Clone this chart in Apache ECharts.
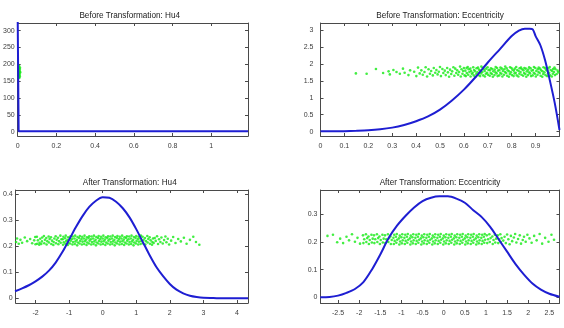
<!DOCTYPE html>
<html>
<head>
<meta charset="utf-8">
<script src="https://cdn.jsdelivr.net/npm/echarts@6/dist/echarts.min.js"></script>
<style>
  html, body { margin: 0; padding: 0; background: #fff; }
  #chart { width: 564px; height: 328px; }
</style>
</head>
<body>
<div id="chart"></div>
<script>
// tick labels
var hu4BeforeXTicks = [0, 0.2, 0.4, 0.6, 0.8, 1];
var hu4BeforeYTicks = [0, 50, 100, 150, 200, 250, 300];
var eccBeforeXTicks = [0, 0.1, 0.2, 0.3, 0.4, 0.5, 0.6, 0.7, 0.8, 0.9];
var eccBeforeYTicks = [0, 0.5, 1, 1.5, 2, 2.5, 3];
var hu4AfterXTicks = [-2, -1, 0, 1, 2, 3, 4];
var hu4AfterYTicks = [0, 0.1, 0.2, 0.3, 0.4];
var eccAfterXTicks = [-2.5, -2, -1.5, -1, -0.5, 0, 0.5, 1, 1.5, 2, 2.5];
var eccAfterYTicks = [0, 0.1, 0.2, 0.3];

// density curves (blue)
var hu4BeforeCurveX = [0, 0.005, 0.01, 0.05, 0.2, 0.5, 0.8, 1.0, 1.19];
var hu4BeforeCurveY = [345, 1, 1, 1, 1, 1, 1, 1, 1];
var eccBeforeCurveX = [0, 0.05, 0.1, 0.15, 0.2, 0.25, 0.3, 0.35, 0.4, 0.45, 0.5, 0.55, 0.6, 0.65, 0.7, 0.75, 0.8, 0.83, 0.855, 0.875, 0.888, 0.9, 0.92, 0.94, 0.96, 0.98, 1.0];
var eccBeforeCurveY = [0.01, 0.01, 0.015, 0.025, 0.04, 0.07, 0.12, 0.2, 0.31, 0.45, 0.65, 0.92, 1.24, 1.62, 2.04, 2.43, 2.82, 2.98, 3.04, 3.04, 3.02, 2.82, 2.55, 2.1, 1.5, 0.85, 0.05];
var hu4AfterCurveX = [-2.61, -2.4, -2.2, -2.0, -1.8, -1.6, -1.4, -1.2, -1.0, -0.8, -0.6, -0.4, -0.2, 0, 0.2, 0.4, 0.6, 0.8, 1.0, 1.2, 1.4, 1.6, 1.8, 2.0, 2.2, 2.4, 2.6, 2.8, 3.0, 3.3, 3.6, 4.0, 4.33];
var hu4AfterCurveY = [0.027, 0.038, 0.05, 0.065, 0.083, 0.106, 0.137, 0.177, 0.224, 0.272, 0.315, 0.35, 0.374, 0.387, 0.385, 0.37, 0.345, 0.31, 0.265, 0.215, 0.165, 0.12, 0.085, 0.055, 0.033, 0.019, 0.01, 0.005, 0.002, 0.001, 0, 0, 0];
var eccAfterCurveX = [-2.92, -2.7, -2.5, -2.3, -2.1, -1.9, -1.7, -1.5, -1.3, -1.1, -0.9, -0.7, -0.5, -0.3, -0.1, 0.1, 0.3, 0.5, 0.7, 0.9, 1.1, 1.3, 1.5, 1.7, 1.9, 2.1, 2.3, 2.5, 2.74];
var eccAfterCurveY = [0, 0.001, 0.006, 0.016, 0.03, 0.055, 0.1, 0.155, 0.215, 0.26, 0.295, 0.325, 0.348, 0.36, 0.365, 0.365, 0.357, 0.342, 0.315, 0.29, 0.255, 0.21, 0.165, 0.12, 0.082, 0.05, 0.028, 0.013, 0.002];

// samples (green), [x, y]
var hu4BeforePts = [[0.006,162],[0.008,168],[0.007,174],[0.009,181],[0.006,187],[0.008,193],[0.011,165],[0.01,171],[0.012,178],[0.011,185],[0.012,190],[0.007,196],[0.013,176],[0.009,160]];

var eccBeforePts = [
  [0.148,1.72],[0.193,1.71],[0.232,1.85],[0.262,1.73],[0.285,1.78],[0.29,1.69],[0.305,1.82],[0.318,1.76],[0.332,1.71],[0.345,1.86],[0.352,1.74],[0.368,1.67],[0.375,1.81],[0.392,1.77],[0.401,1.64],[0.408,1.89],[0.415,1.72],
  [0.422,1.81],[0.428,1.68],[0.435,1.76],[0.44,1.9],[0.446,1.63],[0.452,1.84],[0.458,1.71],[0.463,1.79],[0.47,1.66],[0.474,1.88],[0.48,1.74],[0.485,1.82],[0.49,1.69],[0.495,1.77],[0.5,1.91],[0.504,1.64],[0.51,1.85],[0.514,1.73],[0.52,1.8],[0.524,1.67],[0.53,1.88],[0.533,1.75],[0.538,1.62],[0.542,1.83],[0.547,1.7],[0.551,1.78],[0.556,1.9],[0.56,1.65],[0.564,1.86],[0.568,1.73],[0.572,1.81],[0.576,1.68],[0.58,1.76],[0.584,1.92],[0.587,1.63],[0.59,1.84],[0.594,1.71],[0.597,1.79],[0.6,1.88],[0.603,1.66],
  [0.608,1.64],[0.612,1.73],[0.606,1.8],[0.611,1.88],[0.618,1.68],[0.623,1.76],[0.62,1.84],[0.616,1.91],[0.628,1.63],[0.633,1.71],[0.63,1.79],[0.627,1.86],
  [0.641,1.66],[0.637,1.74],[0.643,1.82],[0.639,1.9],[0.648,1.62],[0.652,1.7],[0.647,1.78],[0.653,1.87],[0.661,1.67],[0.657,1.75],[0.663,1.83],[0.659,1.89],
  [0.668,1.64],[0.672,1.72],[0.669,1.8],[0.673,1.92],[0.681,1.66],[0.677,1.76],[0.683,1.84],[0.679,1.88],[0.688,1.63],[0.692,1.71],[0.687,1.79],[0.693,1.86],
  [0.701,1.68],[0.697,1.74],[0.703,1.82],[0.699,1.9],[0.708,1.65],[0.712,1.73],[0.709,1.81],[0.713,1.87],[0.721,1.62],[0.717,1.7],[0.723,1.78],[0.719,1.85],
  [0.728,1.67],[0.732,1.75],[0.729,1.83],[0.733,1.91],[0.741,1.64],[0.737,1.72],[0.743,1.8],[0.739,1.88],[0.748,1.66],[0.752,1.74],[0.749,1.82],[0.753,1.89],
  [0.761,1.63],[0.757,1.71],[0.763,1.79],[0.759,1.86],[0.768,1.68],[0.772,1.76],[0.769,1.84],[0.773,1.92],[0.781,1.65],[0.777,1.73],[0.783,1.81],[0.779,1.87],
  [0.788,1.62],[0.792,1.7],[0.789,1.78],[0.793,1.9],[0.801,1.67],[0.797,1.75],[0.803,1.83],[0.799,1.88],[0.808,1.64],[0.812,1.72],[0.809,1.8],[0.813,1.86],
  [0.821,1.66],[0.817,1.74],[0.823,1.82],[0.819,1.91],[0.828,1.63],[0.832,1.71],[0.829,1.79],[0.833,1.87],[0.841,1.68],[0.837,1.76],[0.843,1.84],[0.839,1.89],
  [0.848,1.65],[0.852,1.73],[0.849,1.81],[0.853,1.88],[0.861,1.62],[0.857,1.7],[0.863,1.78],[0.859,1.86],[0.868,1.67],[0.872,1.75],[0.869,1.83],[0.873,1.9],
  [0.881,1.64],[0.877,1.72],[0.883,1.8],[0.879,1.87],[0.888,1.66],[0.892,1.74],[0.889,1.82],[0.893,1.91],[0.901,1.63],[0.897,1.71],[0.903,1.79],[0.899,1.88],
  [0.908,1.68],[0.912,1.76],[0.909,1.84],[0.913,1.89],[0.921,1.65],[0.917,1.73],[0.923,1.81],[0.919,1.86],[0.928,1.62],[0.932,1.7],[0.929,1.78],[0.933,1.9],
  [0.941,1.67],[0.937,1.75],[0.943,1.83],[0.939,1.88],[0.948,1.64],[0.952,1.72],[0.949,1.8],[0.953,1.87],[0.961,1.66],[0.957,1.74],[0.963,1.82],[0.959,1.91],
  [0.968,1.63],[0.972,1.71],[0.969,1.79],[0.973,1.85],[0.981,1.67],[0.977,1.76],[0.983,1.84],[0.979,1.89],[0.988,1.7],[0.992,1.8],[0.995,1.75]
];

var hu4AfterPts = [
  [-2.58,0.216],[-2.55,0.229],[-2.5,0.209],[-2.45,0.224],[-2.4,0.213],[-2.32,0.233],[-2.25,0.219],[-2.16,0.227],[-2.1,0.211],[-2.04,0.222],[-2.01,0.235],[-2.0,0.207],
  [-1.95,0.209],[-1.93,0.222],[-1.96,0.236],[-1.88,0.213],[-1.86,0.228],[-1.89,0.205],[-1.81,0.218],[-1.8,0.233],[-1.83,0.208],[-1.74,0.211],[-1.72,0.224],[-1.75,0.239],
  [-1.67,0.206],[-1.65,0.219],[-1.68,0.231],[-1.6,0.214],[-1.58,0.227],[-1.61,0.237],[-1.53,0.208],[-1.51,0.221],[-1.54,0.234],[-1.46,0.216],[-1.44,0.229],[-1.47,0.204],
  [-1.39,0.211],[-1.37,0.224],[-1.4,0.238],[-1.32,0.207],[-1.3,0.219],[-1.33,0.232],[-1.25,0.213],[-1.23,0.226],[-1.26,0.24],
  [-1.18,0.205],[-1.16,0.215],[-1.19,0.226],[-1.17,0.236],[-1.11,0.209],[-1.09,0.219],[-1.12,0.23],[-1.1,0.24],[-1.04,0.204],[-1.02,0.213],[-1.05,0.223],[-1.03,0.234],
  [-0.97,0.21],[-0.95,0.221],[-0.98,0.231],[-0.96,0.238],[-0.9,0.206],[-0.88,0.216],[-0.91,0.227],[-0.89,0.237],[-0.83,0.208],[-0.81,0.218],[-0.84,0.229],[-0.82,0.24],
  [-0.76,0.203],[-0.74,0.214],[-0.77,0.224],[-0.75,0.235],[-0.69,0.21],[-0.67,0.22],[-0.7,0.231],[-0.68,0.239],[-0.62,0.206],[-0.6,0.217],[-0.63,0.227],[-0.61,0.236],
  [-0.55,0.208],[-0.53,0.219],[-0.56,0.229],[-0.54,0.24],[-0.48,0.204],[-0.46,0.214],[-0.49,0.225],[-0.47,0.234],[-0.41,0.21],[-0.39,0.221],[-0.42,0.231],[-0.4,0.238],
  [-0.34,0.206],[-0.32,0.216],[-0.35,0.226],[-0.33,0.237],[-0.27,0.208],[-0.25,0.218],[-0.28,0.229],[-0.26,0.24],[-0.2,0.203],[-0.18,0.214],[-0.21,0.224],[-0.19,0.235],
  [-0.13,0.21],[-0.11,0.22],[-0.14,0.231],[-0.12,0.239],[-0.06,0.206],[-0.04,0.217],[-0.07,0.227],[-0.05,0.236],[0.01,0.208],[0.03,0.219],[0,0.229],[0.02,0.24],
  [0.08,0.204],[0.1,0.214],[0.07,0.225],[0.09,0.234],[0.15,0.21],[0.17,0.221],[0.14,0.231],[0.16,0.238],[0.22,0.206],[0.24,0.216],[0.21,0.226],[0.23,0.237],
  [0.29,0.208],[0.31,0.218],[0.28,0.229],[0.3,0.24],[0.36,0.203],[0.38,0.214],[0.35,0.224],[0.37,0.235],[0.43,0.21],[0.45,0.22],[0.42,0.231],[0.44,0.239],
  [0.5,0.206],[0.52,0.217],[0.49,0.227],[0.51,0.236],[0.57,0.208],[0.59,0.219],[0.56,0.229],[0.58,0.24],[0.64,0.204],[0.66,0.214],[0.63,0.225],[0.65,0.234],
  [0.71,0.21],[0.73,0.221],[0.7,0.231],[0.72,0.238],[0.78,0.206],[0.8,0.216],[0.77,0.226],[0.79,0.237],[0.85,0.208],[0.87,0.218],[0.84,0.229],[0.86,0.24],
  [0.92,0.203],[0.94,0.214],[0.91,0.224],[0.93,0.235],[0.99,0.21],[1.01,0.22],[0.98,0.231],[1,0.239],[1.06,0.206],[1.08,0.217],[1.05,0.227],[1.07,0.236],
  [1.13,0.208],[1.15,0.219],[1.12,0.229],[1.14,0.24],
  [1.2,0.211],[1.22,0.224],[1.19,0.236],[1.27,0.206],[1.29,0.219],[1.26,0.231],[1.34,0.214],[1.36,0.227],[1.33,0.239],[1.41,0.209],[1.43,0.222],[1.4,0.234],[1.48,0.216],[1.5,0.229],[1.47,0.205],
  [1.52,0.212],[1.55,0.231],[1.58,0.22],[1.62,0.238],[1.65,0.208],[1.68,0.226],[1.72,0.216],[1.75,0.233],[1.79,0.21],[1.83,0.223],[1.87,0.237],[1.9,0.215],[1.94,0.228],[1.98,0.206],
  [2.04,0.221],[2.1,0.235],[2.17,0.212],[2.25,0.227],[2.33,0.218],[2.42,0.232],[2.5,0.209],[2.6,0.224],[2.7,0.236],[2.78,0.216],[2.88,0.205]
];

var eccAfterPts = [
  [-2.75,0.222],[-2.62,0.226],[-2.52,0.199],[-2.45,0.212],[-2.38,0.196],[-2.3,0.219],[-2.24,0.206],[-2.17,0.228],[-2.1,0.201],[-2.04,0.215],[-1.98,0.194],
  [-1.9,0.196],[-1.88,0.21],[-1.91,0.224],[-1.83,0.2],[-1.81,0.214],[-1.84,0.228],[-1.77,0.193],[-1.75,0.207],[-1.78,0.22],[-1.7,0.198],[-1.68,0.212],[-1.71,0.226],
  [-1.64,0.196],[-1.62,0.21],[-1.65,0.224],[-1.57,0.2],[-1.55,0.214],[-1.58,0.228],[-1.51,0.193],[-1.49,0.207],[-1.52,0.22],[-1.44,0.198],[-1.42,0.212],[-1.45,0.226],
  [-1.38,0.196],[-1.36,0.21],[-1.39,0.224],[-1.31,0.2],[-1.29,0.214],[-1.32,0.228],[-1.25,0.193],[-1.23,0.207],[-1.26,0.22],
  [-1.18,0.193],[-1.16,0.204],[-1.19,0.215],[-1.17,0.226],[-1.12,0.197],[-1.1,0.208],[-1.13,0.219],[-1.11,0.229],[-1.05,0.191],[-1.03,0.202],[-1.06,0.213],[-1.04,0.223],
  [-0.99,0.195],[-0.97,0.206],[-1,0.217],[-0.98,0.228],[-0.92,0.193],[-0.9,0.204],[-0.93,0.215],[-0.91,0.226],[-0.86,0.197],[-0.84,0.208],[-0.87,0.219],[-0.85,0.229],
  [-0.79,0.191],[-0.77,0.202],[-0.8,0.213],[-0.78,0.223],[-0.73,0.195],[-0.71,0.206],[-0.74,0.217],[-0.72,0.228],[-0.66,0.193],[-0.64,0.204],[-0.67,0.215],[-0.65,0.226],
  [-0.6,0.197],[-0.58,0.208],[-0.61,0.219],[-0.59,0.229],[-0.53,0.191],[-0.51,0.202],[-0.54,0.213],[-0.52,0.223],[-0.47,0.195],[-0.45,0.206],[-0.48,0.217],[-0.46,0.228],
  [-0.4,0.193],[-0.38,0.204],[-0.41,0.215],[-0.39,0.226],[-0.34,0.197],[-0.32,0.208],[-0.35,0.219],[-0.33,0.229],[-0.27,0.191],[-0.25,0.202],[-0.28,0.213],[-0.26,0.223],
  [-0.21,0.195],[-0.19,0.206],[-0.22,0.217],[-0.2,0.228],[-0.14,0.193],[-0.12,0.204],[-0.15,0.215],[-0.13,0.226],[-0.08,0.197],[-0.06,0.208],[-0.09,0.219],[-0.07,0.229],
  [-0.01,0.191],[0.01,0.202],[-0.02,0.213],[0,0.223],[0.05,0.195],[0.07,0.206],[0.04,0.217],[0.06,0.228],[0.12,0.193],[0.14,0.204],[0.11,0.215],[0.13,0.226],
  [0.18,0.197],[0.2,0.208],[0.17,0.219],[0.19,0.229],[0.25,0.191],[0.27,0.202],[0.24,0.213],[0.26,0.223],[0.31,0.195],[0.33,0.206],[0.3,0.217],[0.32,0.228],
  [0.38,0.193],[0.4,0.204],[0.37,0.215],[0.39,0.226],[0.44,0.197],[0.46,0.208],[0.43,0.219],[0.45,0.229],[0.51,0.191],[0.53,0.202],[0.5,0.213],[0.52,0.223],
  [0.57,0.195],[0.59,0.206],[0.56,0.217],[0.58,0.228],[0.64,0.193],[0.66,0.204],[0.63,0.215],[0.65,0.226],[0.7,0.197],[0.72,0.208],[0.69,0.219],[0.71,0.229],
  [0.77,0.191],[0.79,0.202],[0.76,0.213],[0.78,0.223],[0.83,0.195],[0.85,0.206],[0.82,0.217],[0.84,0.228],[0.9,0.193],[0.92,0.204],[0.89,0.215],[0.91,0.226],
  [0.96,0.197],[0.98,0.208],[0.95,0.219],[0.97,0.229],
  [1.03,0.196],[1.05,0.21],[1.02,0.224],[1.09,0.2],[1.11,0.214],[1.08,0.228],[1.16,0.193],[1.18,0.207],[1.15,0.22],[1.22,0.198],[1.24,0.212],[1.21,0.226],
  [1.29,0.196],[1.31,0.21],[1.28,0.224],[1.35,0.2],[1.37,0.214],[1.34,0.228],
  [1.41,0.205],[1.44,0.219],[1.47,0.196],[1.5,0.227],[1.53,0.21],[1.56,0.192],[1.59,0.222],[1.62,0.203],[1.66,0.216],[1.69,0.229],[1.72,0.198],[1.76,0.211],[1.8,0.224],[1.83,0.194],[1.87,0.207],[1.9,0.219],[1.94,0.201],[1.98,0.226],
  [2.03,0.213],[2.08,0.197],[2.14,0.222],[2.2,0.206],[2.27,0.229],[2.33,0.194],[2.4,0.215],[2.48,0.201],[2.55,0.226],[2.61,0.208]
];

function zip(xs, ys) {
  return xs.map(function (x, i) { return [x, ys[i]]; });
}

var FONT = '"Liberation Sans Narrow", "Arial Narrow", "Liberation Sans", sans-serif';
var BOX = '#4a4a4a';
var LABEL = '#3c3c3c';
var BLUE = '#1e1ed2';
var GREEN = '#14ea14';

var panels = [
  { title: 'Before Transformation: Hu4', left: 11.5, top: 23, width: 236.5, height: 113,
    xMin: 0, xMax: 1.19, yMin: -12.8, yMax: 322.8, xTicks: hu4BeforeXTicks, yTicks: hu4BeforeYTicks,
    curve: zip(hu4BeforeCurveX, hu4BeforeCurveY), points: hu4BeforePts, yMargin: 3, smooth: false },
  { title: 'Before Transformation: Eccentricity', left: 320.5, top: 23, width: 239, height: 113,
    xMin: 0, xMax: 1, yMin: -0.127, yMax: 3.206, xTicks: eccBeforeXTicks, yTicks: eccBeforeYTicks,
    curve: zip(eccBeforeCurveX, eccBeforeCurveY), points: eccBeforePts, yMargin: 7, smooth: 0.3 },
  { title: 'After Transformation: Hu4', left: 11.5, top: 190, width: 236.5, height: 113,
    xMin: -2.59, xMax: 4.33, yMin: -0.018, yMax: 0.415, xTicks: hu4AfterXTicks, yTicks: hu4AfterYTicks,
    curve: zip(hu4AfterCurveX, hu4AfterCurveY), points: hu4AfterPts, yMargin: 3, smooth: 0.3 },
  { title: 'After Transformation: Eccentricity', left: 320.5, top: 190, width: 239, height: 113,
    xMin: -2.915, xMax: 2.74, yMin: -0.0206, yMax: 0.388, xTicks: eccAfterXTicks, yTicks: eccAfterYTicks,
    curve: zip(eccAfterCurveX, eccAfterCurveY), points: eccAfterPts, yMargin: 3, smooth: 0.3 }
];

function axis(gridIndex, position, min, max, ticks, withLabels, margin) {
  return {
    type: 'value', gridIndex: gridIndex, position: position, min: min, max: max,
    axisLine: { show: true, onZero: false, lineStyle: { color: BOX, width: 1 } },
    axisTick: { show: true, inside: true, length: 3, customValues: ticks, lineStyle: { color: BOX, width: 1 } },
    axisLabel: { show: withLabels, customValues: ticks, margin: margin, fontSize: 7, color: LABEL, fontFamily: FONT },
    splitLine: { show: false }
  };
}

var option = { animation: false, backgroundColor: '#fff', title: [], grid: [], xAxis: [], yAxis: [], series: [] };

panels.forEach(function (p, i) {
  option.grid.push({ left: p.left, top: p.top, width: p.width, height: p.height, containLabel: false });
  option.title.push({
    text: p.title, left: p.left + p.width / 2, top: p.top - 7.5, padding: 0,
    textAlign: 'center', textVerticalAlign: 'middle',
    textStyle: { fontSize: 8.2, fontWeight: 'normal', color: '#222', fontFamily: FONT }
  });
  option.xAxis.push(axis(i, 'bottom', p.xMin, p.xMax, p.xTicks, true, 7));
  option.xAxis.push(axis(i, 'top', p.xMin, p.xMax, p.xTicks, false, 7));
  option.yAxis.push(axis(i, 'left', p.yMin, p.yMax, p.yTicks, true, p.yMargin));
  option.yAxis.push(axis(i, 'right', p.yMin, p.yMax, p.yTicks, false, 3));
  option.series.push({
    type: 'scatter', xAxisIndex: 2 * i, yAxisIndex: 2 * i, data: p.points,
    symbol: 'circle', symbolSize: 2.6, itemStyle: { color: GREEN }, silent: true, z: 2
  });
  option.series.push({
    type: 'line', xAxisIndex: 2 * i, yAxisIndex: 2 * i, data: p.curve,
    showSymbol: false, smooth: p.smooth, clip: true,
    lineStyle: { color: BLUE, width: 2 }, silent: true, z: 3
  });
});

var chart = echarts.init(document.getElementById('chart'));
chart.setOption(option);
</script>
</body>
</html>
